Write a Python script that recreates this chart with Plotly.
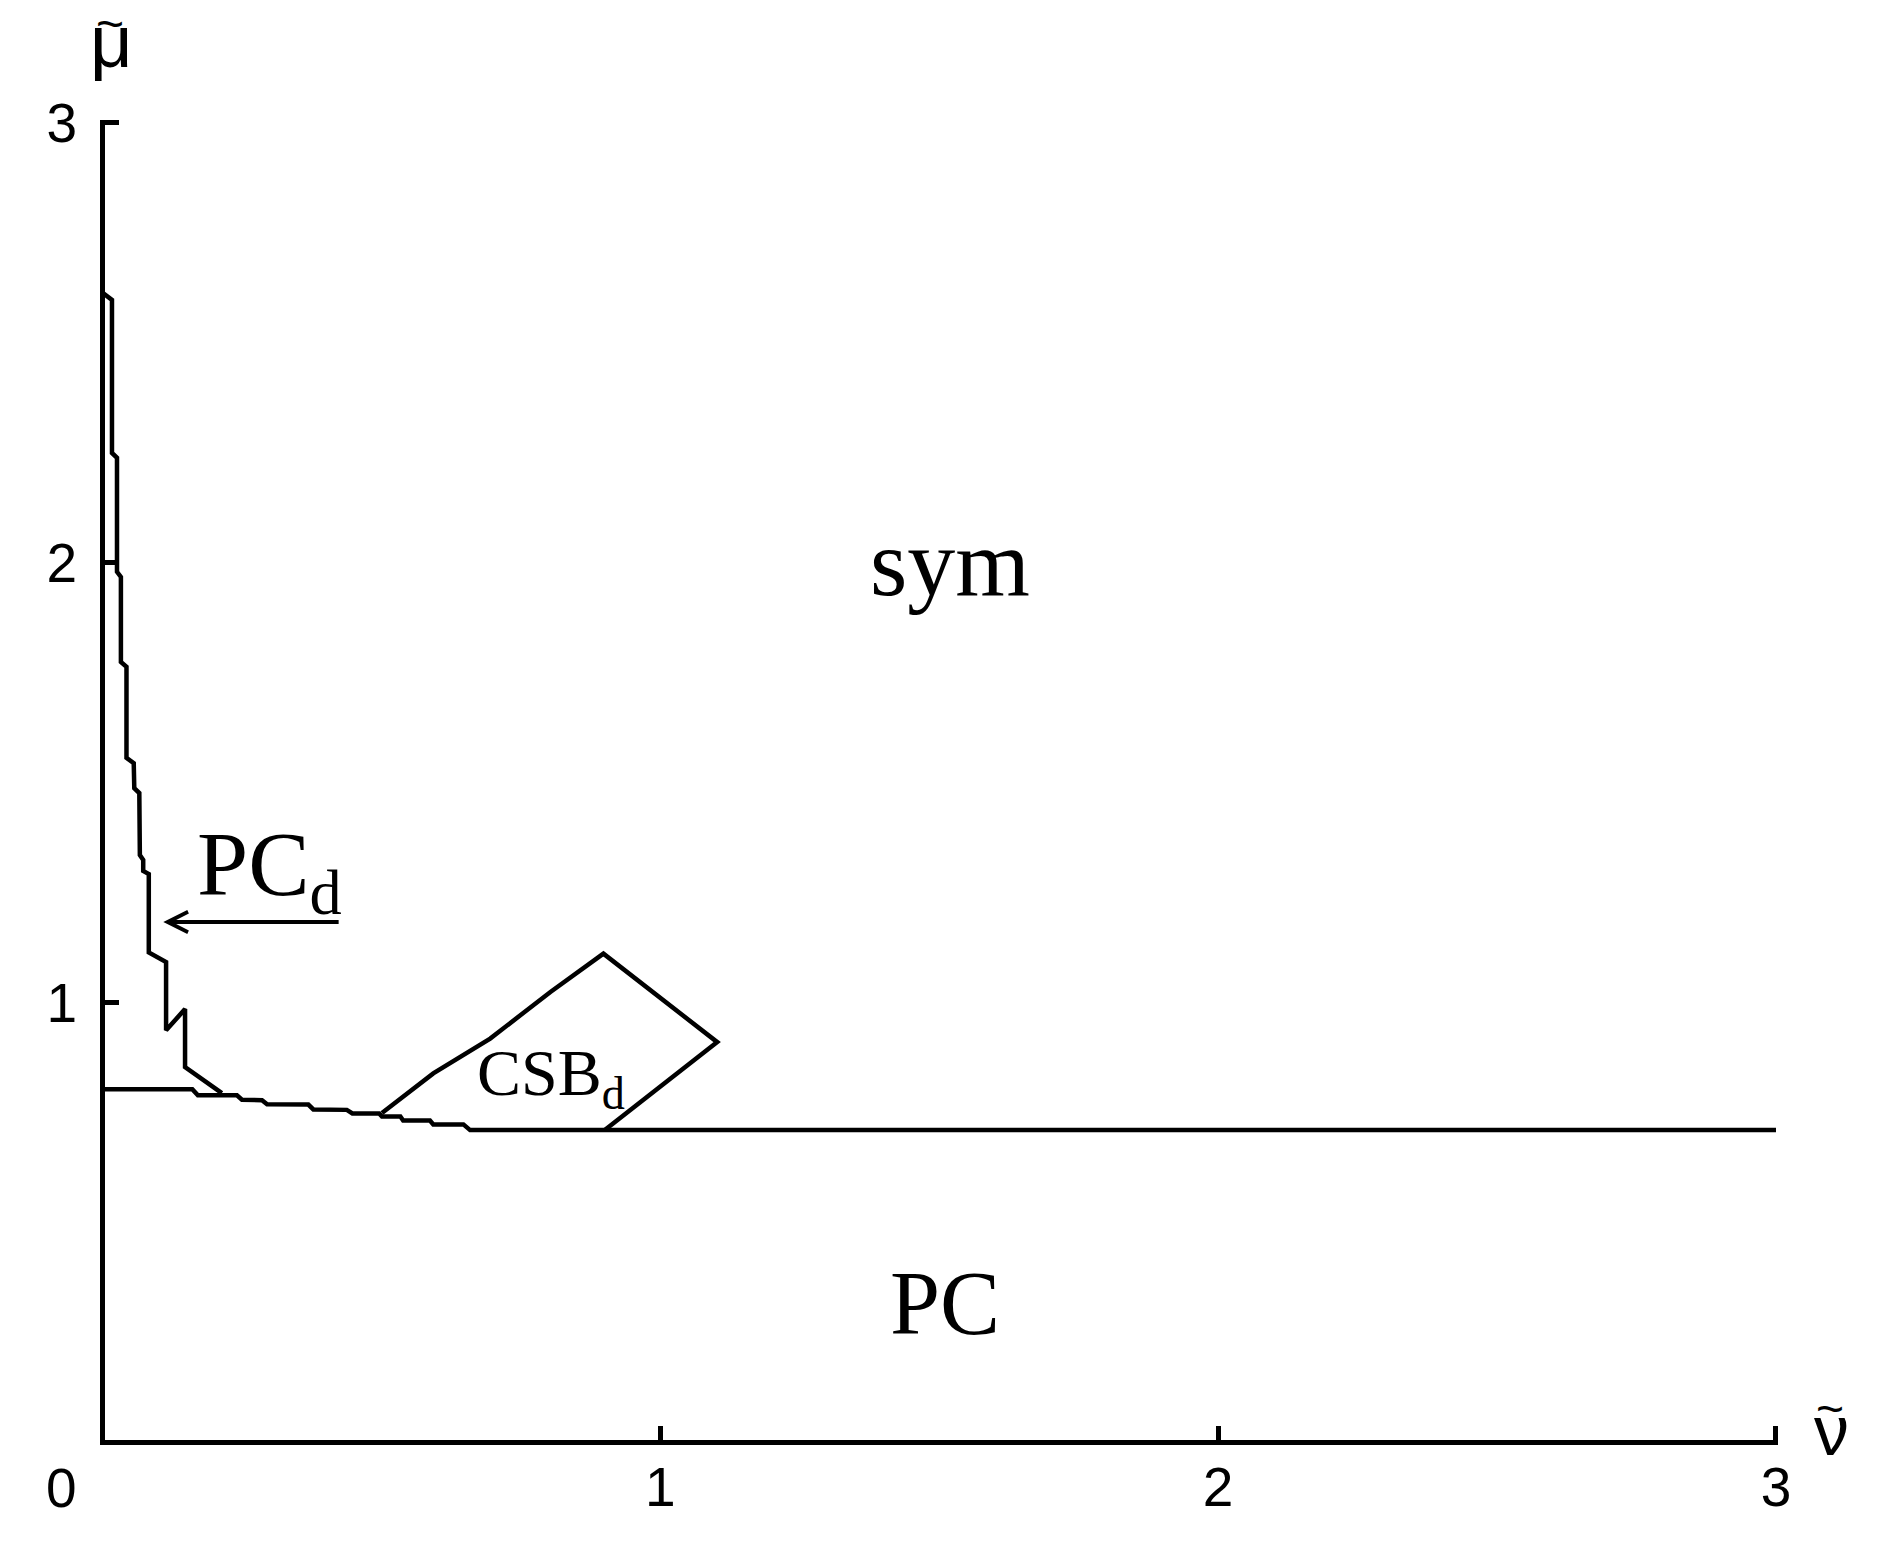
import plotly.graph_objects as go

# PC_d / sym boundary (stepped curve from the mu axis)
curve_nu = [0.000, 0.017, 0.017, 0.026, 0.026, 0.033, 0.033, 0.043, 0.043, 0.056, 0.057,
            0.066, 0.067, 0.073, 0.073, 0.083, 0.083, 0.114, 0.114, 0.148, 0.148, 0.214]
curve_mu = [2.613, 2.597, 2.249, 2.238, 1.979, 1.967, 1.774, 1.763, 1.556, 1.544, 1.487,
            1.476, 1.335, 1.324, 1.299, 1.292, 1.114, 1.092, 0.937, 0.985, 0.853, 0.794]

# PC boundary (lower stepped line to nu = 3)
base_nu = [0.000, 0.161, 0.171, 0.241, 0.250, 0.286, 0.295, 0.369, 0.378, 0.438, 0.448,
           0.496, 0.501, 0.534, 0.539, 0.587, 0.593, 0.647, 0.659, 3.000]
base_mu = [0.803, 0.803, 0.789, 0.789, 0.779, 0.778, 0.769, 0.768, 0.757, 0.756, 0.748,
           0.748, 0.741, 0.741, 0.732, 0.732, 0.723, 0.723, 0.710, 0.710]

# CSB_d region outline
csb_nu = [0.501, 0.593, 0.695, 0.803, 0.898, 1.102, 0.901]
csb_mu = [0.749, 0.839, 0.918, 1.024, 1.111, 0.910, 0.711]

tick_vals = [1, 2, 3]
tick_text = ["1", "2", "3"]

BLACK = "#000000"
line_style = dict(color=BLACK, width=4.5)

fig = go.Figure()
for xs, ys in [(curve_nu, curve_mu), (base_nu, base_mu), (csb_nu, csb_mu)]:
    fig.add_trace(go.Scatter(x=xs, y=ys, mode="lines", line=line_style,
                             cliponaxis=False, showlegend=False, hoverinfo="skip"))

serif = "Liberation Serif"
sans = "Liberation Sans"


def paper_label(x, y, text, size, family=sans):
    return dict(x=x, y=y, xref="paper", yref="paper", text=text,
                font=dict(family=family, size=size, color=BLACK),
                showarrow=False, xanchor="center", yanchor="middle")


annotations = [
    dict(x=1.52, y=2.0, text="sym", font=dict(family=serif, size=96, color=BLACK),
         showarrow=False, xanchor="center", yanchor="middle"),
    dict(x=1.511, y=0.316, text="PC", font=dict(family=serif, size=90, color=BLACK),
         showarrow=False, xanchor="center", yanchor="middle"),
    dict(x=0.165, y=1.30, text="PC<sub>d</sub>", font=dict(family=serif, size=92, color=BLACK),
         showarrow=False, xanchor="left", yanchor="middle"),
    dict(x=0.668, y=0.83, text="CSB<sub>d</sub>", font=dict(family=serif, size=66, color=BLACK),
         showarrow=False, xanchor="left", yanchor="middle"),
    # arrow pointing at the PC_d sliver
    dict(x=0.109, y=1.183, ax=0.426, ay=1.183, xref="x", yref="y", axref="x", ayref="y",
         text="", showarrow=True, arrowhead=5, arrowsize=1.0, arrowwidth=4,
         arrowcolor=BLACK, standoff=0, startstandoff=0),
    # axis titles: mu-tilde and nu-tilde (glyph + tilde accent)
    paper_label(0.0040, 1.0595, "\u03bc", 74),
    paper_label(0.0030, 1.0731, "~", 48),
    paper_label(1.0320, 0.0070, "\u03bd", 70),
    paper_label(1.0312, 0.0242, "~", 48),
    # shared origin label
    paper_label(-0.026, -0.0364, "0", 55),
]

axis_common = dict(
    showgrid=False, zeroline=False, showline=True, linewidth=5,
    linecolor=BLACK, ticks="inside", ticklen=14, tickwidth=5, tickcolor=BLACK,
    tickvals=tick_vals, ticktext=tick_text, automargin=False,
    tickfont=dict(family=sans, size=55, color=BLACK), fixedrange=True,
)

# The page body adds an 8 px margin, so the figure is 16 px smaller than the window
fig.update_layout(
    width=1866, height=1532,
    margin=dict(l=97, r=95.5, t=112, b=100, pad=0),
    paper_bgcolor="white", plot_bgcolor="white",
    xaxis=dict(**axis_common, range=[0.0045, 3.0036], ticklabelstandoff=-5),
    yaxis=dict(**axis_common, range=[0.0057, 3.0057], ticklabelstandoff=12),
    annotations=annotations,
    showlegend=False,
)

fig.write_html("out.html")
